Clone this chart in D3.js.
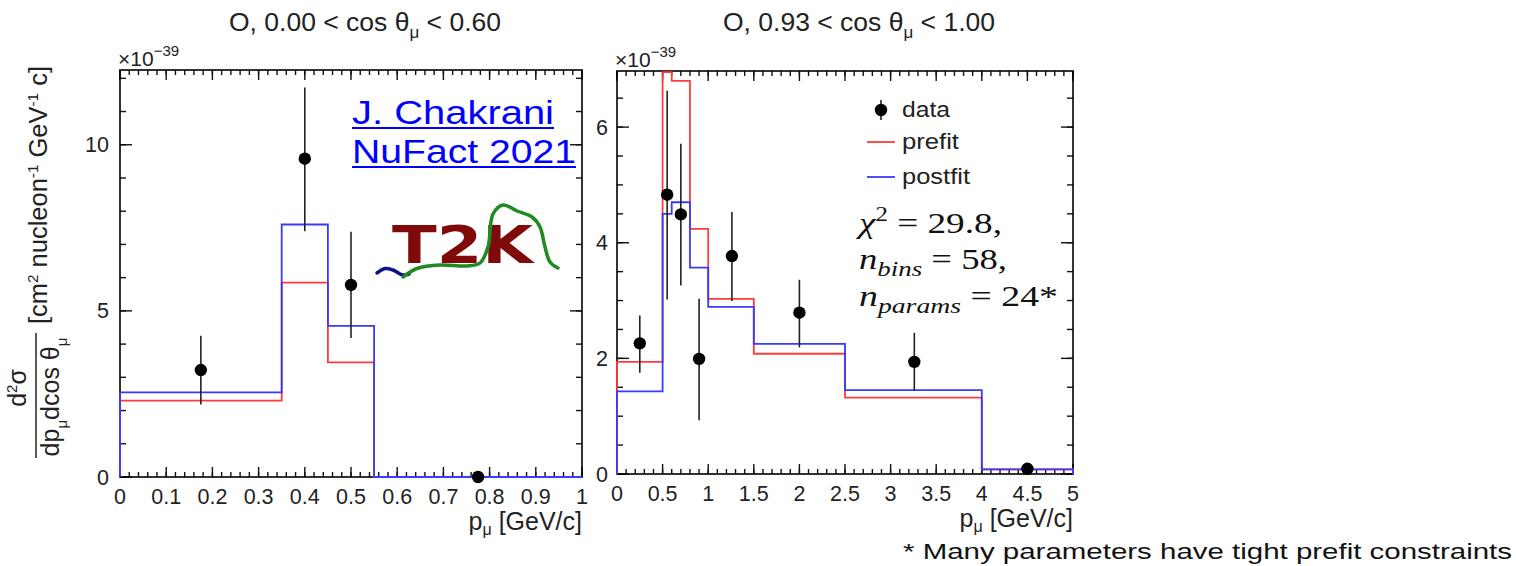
<!doctype html>
<html>
<head>
<meta charset="utf-8">
<style>
  body { margin: 0; background: #fff; }
  svg { display: block; }
</style>
<script src="https://d3js.org/d3.v7.min.js"></script>
</head>
<body>
<svg width="1516" height="566" font-family="Liberation Sans, Arial, sans-serif"></svg>
<script>
// ---- data: left panel, 0.00 < cos theta < 0.60 ----
var leftEdges   = [0, 0.35, 0.45, 0.55, 1.0];
var leftPrefit  = [2.30, 5.85, 3.45, 0];
var leftPostfit = [2.55, 7.60, 4.55, 0];
var leftDataX   = [0.175, 0.40, 0.50, 0.775];
var leftDataY   = [3.22, 9.58, 5.78, 0];
var leftErrLo   = [2.18, 7.40, 4.18, 0];
var leftErrHi   = [4.25, 11.72, 7.38, 0];
var leftXTicks  = [0, 0.1, 0.2, 0.3, 0.4, 0.5, 0.6, 0.7, 0.8, 0.9, 1];
var leftYTicks  = [0, 5, 10];

// ---- data: right panel, 0.93 < cos theta < 1.00 ----
var rightEdges   = [0, 0.5, 0.6, 0.8, 1.0, 1.5, 2.5, 4.0, 5.0];
var rightPrefit  = [1.94, 6.95, 6.80, 4.24, 3.03, 2.08, 1.32, 0.08];
var rightPostfit = [1.43, 4.50, 4.70, 3.57, 2.89, 2.25, 1.45, 0.08];
var rightDataX   = [0.25, 0.55, 0.70, 0.90, 1.26, 2.0, 3.26, 4.5];
var rightDataY   = [2.26, 4.83, 4.49, 1.99, 3.77, 2.79, 1.94, 0.09];
var rightErrLo   = [1.75, 3.02, 3.26, 0.93, 2.99, 2.19, 1.44, 0.05];
var rightErrHi   = [2.74, 6.63, 5.71, 3.03, 4.53, 3.36, 2.44, 0.13];
var rightXTicks  = [0, 0.5, 1, 1.5, 2, 2.5, 3, 3.5, 4, 4.5, 5];
var rightYTicks  = [0, 2, 4, 6];

var svg = d3.select("svg");
svg.append("rect").attr("width", 1516).attr("height", 566).attr("fill", "#fff");

var RED = "#ff3b3b", BLUE = "#3a3aff";

function drawPanel(p) {
    var x = d3.scaleLinear().domain([p.xMin, p.xMax]).range([p.left, p.right]);
    var y = d3.scaleLinear().domain([0, p.yMax]).range([p.bottom, p.top]);
    var g = svg.append("g");

    var clipId = "clip" + p.id;
    svg.append("clipPath").attr("id", clipId)
       .append("rect")
       .attr("x", p.left - 2).attr("y", p.top - 1)
       .attr("width", p.right - p.left + 4).attr("height", p.bottom - p.top + 2);

    // ticks (inward, on all four sides)
    function xTicks(vals, len) {
        vals.forEach(function(v) {
            g.append("line").attr("x1", x(v)).attr("x2", x(v))
             .attr("y1", p.bottom).attr("y2", p.bottom - len)
             .attr("stroke", "#111").attr("stroke-width", 1.4);
            g.append("line").attr("x1", x(v)).attr("x2", x(v))
             .attr("y1", p.top).attr("y2", p.top + len)
             .attr("stroke", "#111").attr("stroke-width", 1.4);
        });
    }
    function yTicks(vals, len) {
        vals.forEach(function(v) {
            g.append("line").attr("x1", p.left).attr("x2", p.left + len)
             .attr("y1", y(v)).attr("y2", y(v))
             .attr("stroke", "#111").attr("stroke-width", 1.4);
            g.append("line").attr("x1", p.right).attr("x2", p.right - len)
             .attr("y1", y(v)).attr("y2", y(v))
             .attr("stroke", "#111").attr("stroke-width", 1.4);
        });
    }
    xTicks(d3.range(p.xMin, p.xMax + 1e-9, p.xMinor), 5);
    xTicks(p.xTicks, 10);
    yTicks(d3.range(0, p.yMax, p.yMinor), 6);
    yTicks(p.yTicks, 12);

    // frame
    g.append("rect")
     .attr("x", p.left).attr("y", p.top)
     .attr("width", p.right - p.left).attr("height", p.bottom - p.top)
     .attr("fill", "none").attr("stroke", "#000").attr("stroke-width", 1.6);

    // histograms
    var line = d3.line().x(function(d) { return x(d[0]); }).y(function(d) { return y(d[1]); });
    function steps(edges, vals) {
        var pts = [[edges[0], 0]];
        vals.forEach(function(v, i) { pts.push([edges[i], v]); pts.push([edges[i + 1], v]); });
        pts.push([edges[edges.length - 1], 0]);
        return pts;
    }
    var hg = g.append("g").attr("clip-path", "url(#" + clipId + ")");
    hg.append("path").attr("d", line(steps(p.edges, p.prefit)))
      .attr("fill", "none").attr("stroke", RED).attr("stroke-width", 1.8);
    hg.append("path").attr("d", line(steps(p.edges, p.postfit)))
      .attr("fill", "none").attr("stroke", BLUE).attr("stroke-width", 1.8);

    // data points with error bars
    p.dataX.forEach(function(dx, i) {
        g.append("line")
         .attr("x1", x(dx)).attr("x2", x(dx))
         .attr("y1", y(p.errLo[i])).attr("y2", y(p.errHi[i]))
         .attr("stroke", "#222").attr("stroke-width", 1.6);
        g.append("circle")
         .attr("cx", x(dx)).attr("cy", y(p.dataY[i])).attr("r", 6.2)
         .attr("fill", "#000");
    });

    // tick labels
    p.xTicks.forEach(function(v) {
        g.append("text").attr("x", x(v)).attr("y", p.bottom + 27)
         .attr("text-anchor", "middle").attr("font-size", 21.5).attr("fill", "#222")
         .text(d3.format("~g")(v));
    });
    p.yTicks.forEach(function(v) {
        g.append("text").attr("x", p.left - p.yPad).attr("y", y(v) + 7.5)
         .attr("text-anchor", "end").attr("font-size", 21.5).attr("fill", "#222")
         .text(v);
    });

    // x10^-39
    var ex = g.append("text").attr("x", p.left - 2).attr("y", p.top - 4)
              .attr("font-size", 21).attr("fill", "#222");
    ex.append("tspan").text("\u00d710");
    ex.append("tspan").attr("dy", -10).attr("font-size", 15).text("\u221239");

    // title
    var t = g.append("text").attr("x", (p.left + p.right) / 2 + 14).attr("y", 31)
             .attr("text-anchor", "middle").attr("font-size", 26.5).attr("fill", "#222");
    t.append("tspan").text(p.title[0]);
    t.append("tspan").attr("dy", 7).attr("font-size", 17).text("\u03bc");
    t.append("tspan").attr("dy", -7).text(p.title[1]);

    // x-axis title
    var xt = g.append("text").attr("x", p.right).attr("y", p.bottom + 53)
              .attr("text-anchor", "end").attr("font-size", 25).attr("fill", "#222");
    xt.append("tspan").text("p");
    xt.append("tspan").attr("dy", 5).attr("font-size", 16).text("\u03bc");
    xt.append("tspan").attr("dy", -5).text(" [GeV/c]");

    return { x: x, y: y, g: g };
}

drawPanel({
    id: "L", left: 120, right: 582, top: 70, bottom: 477,
    xMin: 0, xMax: 1, yMax: 12.25, xMinor: 0.02, yMinor: 1, yPad: 11,
    edges: leftEdges, prefit: leftPrefit, postfit: leftPostfit,
    dataX: leftDataX, dataY: leftDataY, errLo: leftErrLo, errHi: leftErrHi,
    xTicks: leftXTicks, yTicks: leftYTicks,
    title: ["O, 0.00 < cos \u03b8", " < 0.60"]
});

drawPanel({
    id: "R", left: 617, right: 1073, top: 71, bottom: 474,
    xMin: 0, xMax: 5, yMax: 6.97, xMinor: 0.1, yMinor: 0.5, yPad: 9,
    edges: rightEdges, prefit: rightPrefit, postfit: rightPostfit,
    dataX: rightDataX, dataY: rightDataY, errLo: rightErrLo, errHi: rightErrHi,
    xTicks: rightXTicks, yTicks: rightYTicks,
    title: ["O, 0.93 < cos \u03b8", " < 1.00"]
});

// y-axis title (rotated): d2sigma / dp dcos theta [cm2 nucleon-1 GeV-1 c]
var yt = svg.append("g").attr("transform", "rotate(-90)").attr("fill", "#222");
var num = yt.append("text").attr("x", -388).attr("y", 26)
            .attr("text-anchor", "middle").attr("font-size", 25);
num.append("tspan").text("d");
num.append("tspan").attr("dy", -9).attr("font-size", 15).text("2");
num.append("tspan").attr("dy", 9).text("\u03c3");
yt.append("line").attr("x1", -458).attr("x2", -333).attr("y1", 36).attr("y2", 36)
  .attr("stroke", "#222").attr("stroke-width", 1.5);
var den = yt.append("text").attr("x", -397).attr("y", 59)
            .attr("text-anchor", "middle").attr("font-size", 25);
den.append("tspan").text("dp");
den.append("tspan").attr("dy", 8).attr("font-size", 15).text("\u03bc");
den.append("tspan").attr("dy", -8).text("dcos \u03b8");
den.append("tspan").attr("dy", 8).attr("font-size", 15).text("\u03bc");
var unit = yt.append("text").attr("x", -324).attr("y", 47)
             .attr("font-size", 25).attr("textLength", 258).attr("lengthAdjust", "spacingAndGlyphs");
unit.append("tspan").text("[cm");
unit.append("tspan").attr("dy", -9).attr("font-size", 15).text("2");
unit.append("tspan").attr("dy", 9).text(" nucleon");
unit.append("tspan").attr("dy", -9).attr("font-size", 15).text("-1");
unit.append("tspan").attr("dy", 9).text(" GeV");
unit.append("tspan").attr("dy", -9).attr("font-size", 15).text("-1");
unit.append("tspan").attr("dy", 9).text(" c]");

// legend (right panel)
var lg = svg.append("g");
var legendItems = [
    { label: "data", y: 110, w: 48 },
    { label: "prefit", y: 142, w: 57, color: RED },
    { label: "postfit", y: 177, w: 68, color: BLUE }
];
legendItems.forEach(function(it) {
    if (it.color) {
        lg.append("line").attr("x1", 867).attr("x2", 895).attr("y1", it.y).attr("y2", it.y)
          .attr("stroke", it.color).attr("stroke-width", 1.8);
    } else {
        lg.append("line").attr("x1", 881).attr("x2", 881).attr("y1", it.y - 10).attr("y2", it.y + 10)
          .attr("stroke", "#222").attr("stroke-width", 1.6);
        lg.append("circle").attr("cx", 881).attr("cy", it.y).attr("r", 6.2).attr("fill", "#000");
    }
    lg.append("text").attr("x", 902).attr("y", it.y + 7).attr("font-size", 22).attr("fill", "#222")
      .attr("textLength", it.w).attr("lengthAdjust", "spacingAndGlyphs").text(it.label);
});

// fit statistics
var chiLines = [
    { v: "\u03c7", sup: "2", sub: null, rest: " = 29.8,", y: 233, w: 143 },
    { v: "n", sup: null, sub: "bins", rest: " = 58,", y: 269, w: 148 },
    { v: "n", sup: null, sub: "params", rest: " = 24*", y: 306, w: 199 }
];
chiLines.forEach(function(l) {
    var t = svg.append("text").attr("x", 859).attr("y", l.y)
               .attr("font-family", "Liberation Serif, serif").attr("font-size", 30).attr("fill", "#111")
               .attr("textLength", l.w).attr("lengthAdjust", "spacingAndGlyphs");
    t.append("tspan").attr("font-style", "italic").text(l.v);
    if (l.sup) {
        t.append("tspan").attr("dy", -12).attr("font-size", 20).text(l.sup);
        t.append("tspan").attr("dy", 12).text(l.rest);
    } else {
        t.append("tspan").attr("dy", 7).attr("font-size", 22).attr("font-style", "italic").text(l.sub);
        t.append("tspan").attr("dy", -7).text(l.rest);
    }
});

// link text
var link = svg.append("g").attr("fill", "#0000ff");
[["J. Chakrani", 124, 202], ["NuFact 2021", 163, 224]].forEach(function(r) {
    link.append("text").attr("x", 352).attr("y", r[1])
        .attr("font-size", 33)
        .attr("textLength", r[2]).attr("lengthAdjust", "spacingAndGlyphs").text(r[0]);
    link.append("line").attr("x1", 352).attr("x2", 352 + r[2])
        .attr("y1", r[1] + 4).attr("y2", r[1] + 4)
        .attr("stroke", "#0000ff").attr("stroke-width", 2);
});

// T2K logo
var logo = svg.append("g");
var curve = d3.line().curve(d3.curveCatmullRom);
logo.append("text").attr("x", 392).attr("y", 263)
    .attr("font-family", "DejaVu Sans, sans-serif").attr("font-weight", "bold")
    .attr("font-size", 52).attr("fill", "#800a0a")
    .attr("textLength", 141).attr("lengthAdjust", "spacingAndGlyphs").text("T2K");
logo.append("path")
    .attr("d", curve([[377, 273], [385, 268.5], [393, 270], [403, 275], [409, 274]]))
    .attr("fill", "none").attr("stroke", "#10108a").attr("stroke-width", 3.5).attr("stroke-linecap", "round");
logo.append("path")
    .attr("d", curve([[403, 277], [417, 268.5], [440, 265], [467, 266], [480, 263], [488, 247],
                      [493, 214], [503, 205], [517, 211], [532, 217], [540, 227], [545, 247],
                      [550, 262], [558, 268]]))
    .attr("fill", "none").attr("stroke", "#1f8a1f").attr("stroke-width", 3.5).attr("stroke-linecap", "round");

// footnote
svg.append("text").attr("x", 903).attr("y", 559)
   .attr("font-size", 22).attr("fill", "#111")
   .attr("textLength", 609).attr("lengthAdjust", "spacingAndGlyphs")
   .text("* Many parameters have tight prefit constraints");
</script>
</body>
</html>
